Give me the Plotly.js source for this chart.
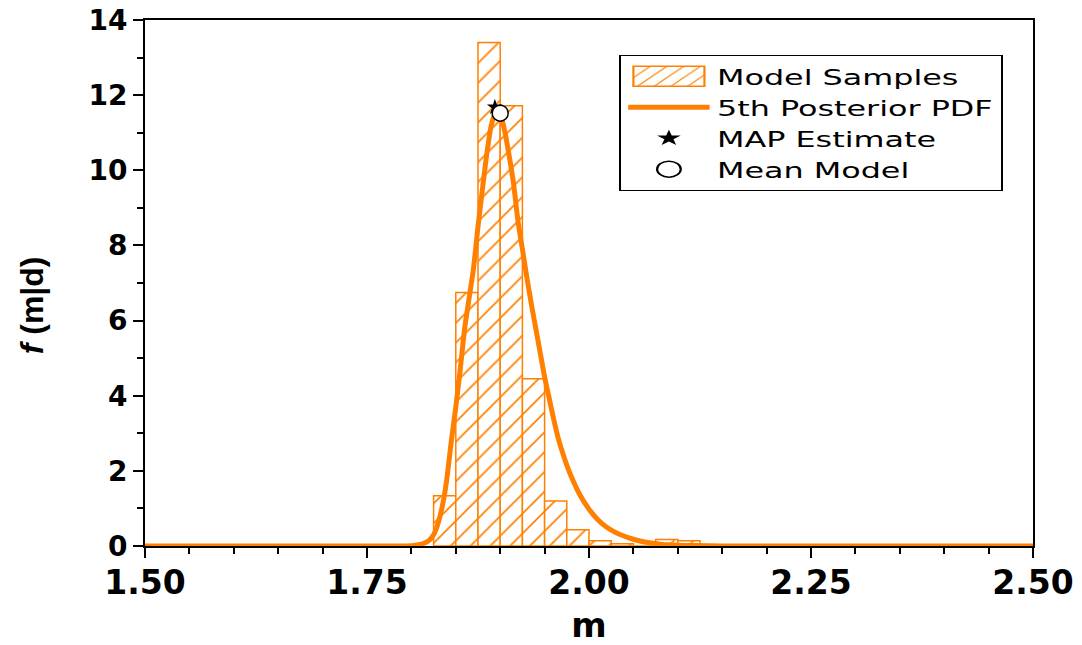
<!DOCTYPE html>
<html>
<head>
<meta charset="utf-8">
<script src="https://cdn.plot.ly/plotly-3.0.1.min.js"></script>
<style>html,body{margin:0;padding:0;background:#fff;}#chart{width:1082px;height:645px;}</style>
</head>
<body>
<div id="chart"></div>
<script>
// Histogram of model samples (bin left edges, bin width 0.025)
const binLeft = [1.825, 1.850, 1.875, 1.900, 1.925, 1.950, 1.975, 2.000, 2.025, 2.050, 2.075, 2.100];
const binHeight = [1.34, 6.75, 13.40, 11.72, 4.45, 1.20, 0.43, 0.14, 0.06, 0.0, 0.17, 0.14];
const binWidth = 0.025;

// 5th posterior PDF
const pdfM = [1.50, 1.60, 1.70, 1.78, 1.80, 1.81, 1.815, 1.82, 1.825, 1.83, 1.836, 1.84, 1.845, 1.85, 1.855, 1.86, 1.865, 1.87, 1.875, 1.88, 1.885, 1.89, 1.895, 1.90, 1.905, 1.91, 1.915, 1.92, 1.925, 1.93, 1.935, 1.94, 1.945, 1.95, 1.955, 1.96, 1.965, 1.97, 1.975, 1.98, 1.99, 2.00, 2.01, 2.02, 2.03, 2.04, 2.05, 2.06, 2.07, 2.08, 2.09, 2.10, 2.12, 2.15, 2.25, 2.50];
const pdfF = [0, 0, 0, 0, 0.01, 0.04, 0.08, 0.15, 0.30, 0.60, 1.20, 1.80, 2.80, 3.70, 4.70, 5.80, 6.60, 7.40, 8.50, 9.50, 10.45, 11.20, 11.55, 11.50, 11.05, 10.40, 9.65, 8.65, 7.90, 7.15, 6.45, 5.80, 5.15, 4.50, 3.95, 3.40, 2.90, 2.50, 2.15, 1.85, 1.35, 0.98, 0.70, 0.50, 0.36, 0.26, 0.18, 0.12, 0.08, 0.05, 0.03, 0.02, 0.01, 0, 0, 0];

const mapEstimate = {m: [1.894], f: [11.68]};
const meanModel = {m: [1.900], f: [11.52]};

const xTitle = 'm';
const yTitle = '<b><i>f</i> (m|d)</b>';

const orange = '#FF8000';
const binCenter = binLeft.map(v => v + binWidth / 2);

const traces = [
  {
    type: 'bar', name: 'Model Samples',
    x: binCenter, y: binHeight, width: binLeft.map(() => binWidth),
    marker: {
      color: 'white',
      line: {color: orange, width: 1.5},
      pattern: {shape: '/', fgcolor: orange, bgcolor: 'white', size: 14, solidity: 0.12}
    }
  },
  {
    type: 'scatter', mode: 'lines', name: '5th Posterior PDF',
    x: pdfM, y: pdfF, cliponaxis: false,
    line: {color: orange, width: 5, shape: 'spline', smoothing: 0.6}
  },
  {
    type: 'scatter', mode: 'markers', name: 'MAP Estimate',
    x: mapEstimate.m, y: mapEstimate.f, cliponaxis: false,
    marker: {symbol: 'star', size: 12, color: 'black'}
  },
  {
    type: 'scatter', mode: 'markers', name: 'Mean Model',
    x: meanModel.m, y: meanModel.f, cliponaxis: false,
    marker: {symbol: 'circle', size: 16, color: 'white', line: {color: 'black', width: 1.5}}
  }
];

const tickFontX = {family: 'DejaVu Sans', size: 33, color: 'black', weight: 'bold'};
const tickFontY = {family: 'DejaVu Sans', size: 28, color: 'black', weight: 'bold'};

const layout = {
  width: 1082, height: 645,
  margin: {l: 145, r: 49, t: 20, b: 99},
  paper_bgcolor: 'white', plot_bgcolor: 'white',
  showlegend: true,
  bargap: 0,
  xaxis: {
    range: [1.5, 2.5], tick0: 1.5, dtick: 0.25, tickformat: '.2f',
    ticks: 'outside', ticklen: 10, tickwidth: 2, tickcolor: 'black',
    minor: {dtick: 0.05, ticks: 'outside', ticklen: 6, tickwidth: 2, tickcolor: 'black', showgrid: false},
    showline: true, linewidth: 2, linecolor: 'black', mirror: true,
    showgrid: false, zeroline: false,
    tickfont: tickFontX, ticklabelstandoff: -4,
    title: {text: '<b>' + xTitle + '</b>', font: {family: 'DejaVu Sans', size: 34, color: 'black'}, standoff: 24}
  },
  yaxis: {
    range: [0, 14], tick0: 0, dtick: 2,
    ticks: 'outside', ticklen: 10, tickwidth: 2, tickcolor: 'black',
    minor: {dtick: 1, ticks: 'outside', ticklen: 6, tickwidth: 2, tickcolor: 'black', showgrid: false},
    showline: true, linewidth: 2, linecolor: 'black', mirror: true,
    showgrid: false, zeroline: false,
    tickfont: tickFontY
  },
  annotations: [{
    text: yTitle, xref: 'paper', yref: 'paper',
    x: -0.127, y: 0.458, xanchor: 'center', yanchor: 'middle',
    textangle: -90, showarrow: false,
    font: {family: 'Liberation Sans', size: 32, color: 'black'}
  }],
  legend: {
    x: 0.534, y: 0.934, xanchor: 'left', yanchor: 'top',
    bgcolor: 'white', bordercolor: 'black', borderwidth: 1.1,
    font: {family: 'DejaVu Sans', size: 21.5, color: 'black'},
    itemwidth: 55, tracegroupgap: 0
  }
};

Plotly.newPlot('chart', traces, layout, {displayModeBar: false, staticPlot: true}).then(gd => {
  // The reference legend is horizontally stretched: widen it from its left edge.
  const leg = gd.querySelector('g.legend');
  if (leg) {
    const tr = leg.getAttribute('transform') || '';
    leg.setAttribute('transform', tr + ' scale(1.48,1)');
    // Wide hatched rectangle for the histogram entry
    leg.querySelectorAll('g.legendpoints path').forEach(p => {
      const d = (p.getAttribute('d') || '').replace(/\s/g, '');
      if (d === 'M6,6H-6V-6H6Z') p.setAttribute('d', 'M24,10H-24V-10H24Z');
    });
  }
});
</script>
</body>
</html>
